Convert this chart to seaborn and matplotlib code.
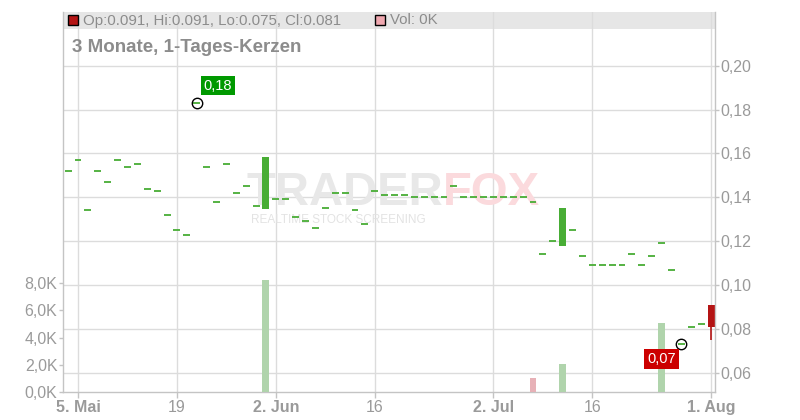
import matplotlib
matplotlib.use("Agg")
import matplotlib.pyplot as plt
from matplotlib.patches import Rectangle
import numpy as np
import pandas as pd
import seaborn as sns

# trading days shown (2 May .. 1 Aug 2025)
dates = pd.bdate_range("2025-05-02", "2025-08-01")

opens = [0.152, 0.157, 0.134, 0.152, 0.147, 0.157, 0.154, 0.155, 0.144, 0.143,
         0.132, 0.125, 0.123, 0.183, 0.154, 0.138, 0.155, 0.142, 0.145, 0.136,
         0.1346, 0.139, 0.139, 0.131, 0.129, 0.126, 0.135, 0.142, 0.142, 0.134,
         0.128, 0.143, 0.141, 0.141, 0.141, 0.140, 0.140, 0.140, 0.140, 0.145,
         0.140, 0.140, 0.140, 0.140, 0.140, 0.140, 0.140, 0.138, 0.114, 0.120,
         0.118, 0.125, 0.113, 0.109, 0.109, 0.109, 0.109, 0.114, 0.109, 0.113,
         0.119, 0.107, 0.073, 0.081, 0.082, 0.091]
closes = [0.152, 0.157, 0.134, 0.152, 0.147, 0.157, 0.154, 0.155, 0.144, 0.143,
          0.132, 0.125, 0.123, 0.183, 0.154, 0.138, 0.155, 0.142, 0.145, 0.136,
          0.1585, 0.139, 0.139, 0.131, 0.129, 0.126, 0.135, 0.142, 0.142, 0.134,
          0.128, 0.143, 0.141, 0.141, 0.141, 0.140, 0.140, 0.140, 0.140, 0.145,
          0.140, 0.140, 0.140, 0.140, 0.140, 0.140, 0.140, 0.138, 0.114, 0.120,
          0.135, 0.125, 0.113, 0.109, 0.109, 0.109, 0.109, 0.114, 0.109, 0.113,
          0.119, 0.107, 0.073, 0.081, 0.082, 0.081]
highs = [max(o, c) for o, c in zip(opens, closes)]
lows = [min(o, c) for o, c in zip(opens, closes)]
lows[-1] = 0.075
volumes = [0] * len(dates)
volumes[20] = 8200
volumes[47] = 1050
volumes[50] = 2050
volumes[60] = 5100

tick_dates = ["2025-05-05", "2025-05-19", "2025-06-02", "2025-06-16",
              "2025-07-02", "2025-07-16", "2025-08-01"]
tick_labels = ["5. Mai", "19", "2. Jun", "16", "2. Jul", "16", "1. Aug"]
price_ticks = [0.06, 0.08, 0.10, 0.12, 0.14, 0.16, 0.18, 0.20]
vol_ticks = [0, 2000, 4000, 6000, 8000]

GREEN = "#48ad35"
RED = "#b41414"
VOL_UP = "#abdba5"
VOL_DOWN = "#f0a8b0"
TXT = "#9a9a9a"
GRID = "#dcdcdc"

sns.set_style("white")
plt.rcParams["font.family"] = ["Liberation Sans", "DejaVu Sans"]

W, H = 800, 420
fig = plt.figure(figsize=(W / 100, H / 100), dpi=100)
ax = fig.add_axes([63 / W, 28 / H, 652 / W, 380 / H])
ax_vol = ax.twinx()

pos = np.arange(len(dates))
df = pd.DataFrame({"pos": pos, "open": opens, "close": closes,
                   "high": highs, "low": lows, "vol": volumes})
prev = df["close"].shift(1).fillna(df["close"])
df["dir"] = np.where(df["close"] >= prev, "up", "down")

# header bar + watermark (behind the candles)
ax.add_patch(Rectangle((0, 0.954), 1, 0.046, transform=ax.transAxes,
                       color="#e6e6e6", zorder=0.1, lw=0))
ax.text(443 / W, 1 - 193 / H, "TRADER", ha="right", va="center", fontsize=34,
        fontweight="bold", color="#e8e8e8", zorder=0.8, transform=fig.transFigure)
ax.text(443 / W, 1 - 193 / H, "FOX", ha="left", va="center", fontsize=34,
        fontweight="bold", color="#fbdadd", zorder=0.8, transform=fig.transFigure)
ax.text(251 / W, 1 - 220 / H, "REALTIME STOCK SCREENING", ha="left", va="center",
        fontsize=8.5, color="#e3e3e3", zorder=0.8, transform=fig.transFigure)

# candles
for _, r in df.iterrows():
    col = GREEN if r["close"] >= r["open"] else RED
    if r["high"] > max(r["open"], r["close"]) or r["low"] < min(r["open"], r["close"]):
        ax.vlines(r["pos"], r["low"], r["high"], color=col, lw=1.2, zorder=2)
    if r["close"] == r["open"]:
        ax.hlines(r["close"], r["pos"] - 0.35, r["pos"] + 0.35, color=col, lw=1.3, zorder=2)
    else:
        ax.bar(r["pos"], r["close"] - r["open"], bottom=r["open"], width=0.7,
               color=col, zorder=2, lw=0)

# volume
sns.barplot(data=df, x="pos", y="vol", hue="dir", palette={"up": VOL_UP, "down": VOL_DOWN},
            native_scale=True, width=0.7, dodge=False, errorbar=None, legend=False,
            ax=ax_vol, linewidth=0)
ax_vol.set_xlabel("")
ax_vol.set_ylabel("")

# high / low markers
hi_i = int(np.argmax(highs))
lo_i = int(np.argmin(lows[:-1]))
for i, v in [(hi_i, highs[hi_i]), (lo_i, lows[lo_i])]:
    ax_vol.plot([i], [v], transform=ax.transData, marker="o", ms=7.5,
                mfc="none", mec="black", mew=1, zorder=5)
ax_vol.annotate("0,18", xy=(hi_i, highs[hi_i]), xycoords=ax.transData,
                xytext=(5, 7.5), textcoords="offset points", ha="left", va="bottom",
                fontsize=10.5, color="white", zorder=6,
                bbox=dict(boxstyle="square,pad=0.2", fc="#009900", ec="none"))
ax_vol.annotate("0,07", xy=(lo_i, lows[lo_i]), xycoords=ax.transData,
                xytext=(-4, -5.5), textcoords="offset points", ha="right", va="top",
                fontsize=10.5, color="white", zorder=6,
                bbox=dict(boxstyle="square,pad=0.2", fc="#cc0000", ec="none"))

# axes, ticks, grid
ax.set_xlim(-0.52, 65.4)
ax.set_ylim(0.0512, 0.2245)
ax_vol.set_ylim(0, 27900)

tick_pos = [dates.get_loc(pd.Timestamp(d)) for d in tick_dates]
ax.set_xticks(tick_pos)
ax.set_xticklabels(tick_labels)
for t in ax.get_xticklabels():
    if ". " in t.get_text():
        t.set_fontweight("bold")

ax.yaxis.tick_right()
ax.set_yticks(price_ticks)
ax.set_yticklabels([f"{v:.2f}".replace(".", ",") for v in price_ticks])
ax_vol.yaxis.tick_left()
ax_vol.set_yticks(vol_ticks)
ax_vol.set_yticklabels([f"{v / 1000:.1f}K".replace(".", ",") for v in vol_ticks])

ax.set_axisbelow(True)
ax.grid(True, color=GRID, lw=1)
ax_vol.grid(False)

ax.tick_params(axis="x", colors="#c4c4c4", labelcolor=TXT, labelsize=11.5,
               length=4, width=1, pad=2, direction="out", bottom=True)
ax.tick_params(axis="y", colors="#c4c4c4", labelcolor=TXT, labelsize=11.5,
               length=3, width=1, pad=1, right=True, left=False)
ax_vol.tick_params(axis="y", colors="#c4c4c4", labelcolor=TXT, labelsize=11.5,
                   length=3, width=1, pad=1, left=True, right=False)

for a in (ax, ax_vol):
    for s in a.spines.values():
        s.set_color("#c4c4c4")
        s.set_linewidth(1)
    a.spines["top"].set_visible(False)
ax_vol.spines["left"].set_visible(False)
ax_vol.spines["right"].set_visible(False)
ax_vol.spines["bottom"].set_visible(False)

# header legend and subtitle
fig.add_artist(Rectangle((68 / W, 1 - 25 / H), 10 / W, 10 / H, transform=fig.transFigure,
                         fc=RED, ec="black", lw=1))
fig.text(83 / W, 1 - 20.5 / H, "Op:0.091, Hi:0.091, Lo:0.075, Cl:0.081",
         ha="left", va="center", fontsize=10.8, color="#8c8c8c")
fig.add_artist(Rectangle((375 / W, 1 - 25 / H), 10 / W, 10 / H, transform=fig.transFigure,
                         fc=VOL_DOWN, ec="black", lw=1))
fig.text(390 / W, 1 - 20.5 / H, "Vol: 0K", ha="left", va="center",
         fontsize=10.8, color="#8c8c8c")
fig.text(72 / W, 1 - 47 / H, "3 Monate, 1-Tages-Kerzen", ha="left", va="center",
         fontsize=13.5, fontweight="bold", color="#8c8c8c")

fig.savefig("out.png", dpi=100)
